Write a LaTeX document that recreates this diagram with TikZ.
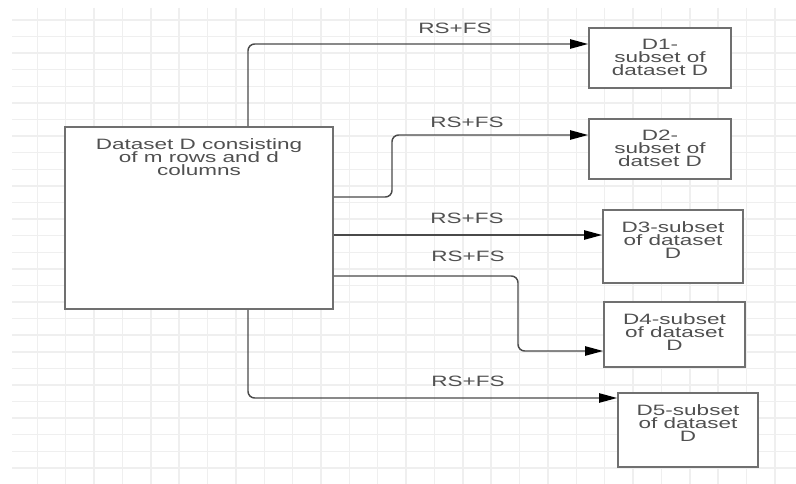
\documentclass[tikz,border=0pt]{standalone}
\usepackage{fontspec}
\usepackage{tikz}
\usetikzlibrary{arrows.meta,positioning}
\newfontfamily\widesans[FakeStretch=1.5]{Liberation Sans}
\newcommand{\boxfont}{\widesans\fontsize{11.25pt}{9.75pt}\selectfont\lineskiplimit=-20pt\relax}
\definecolor{gridcol}{HTML}{EFEFEF}
\definecolor{edgecol}{HTML}{707070}
\definecolor{txtcol}{HTML}{505050}
\definecolor{linecol}{HTML}{4A4A4A}
\tikzset{
  gline/.style={draw=gridcol, line width=1.1pt},
  dbox/.style={draw=edgecol, fill=white, line width=1.4pt, inner sep=0pt},
  btxt/.style={align=center, inner sep=0pt, text=txtcol, font=\boxfont},
  flbl/.style={anchor=base, inner sep=0pt, text=txtcol, font=\boxfont},
  farr/.style={-{Triangle[length=13.5pt,width=7pt,color=black]}, draw=linecol, line width=1.1pt, rounded corners=5pt}
}

\begin{document}
\begin{tikzpicture}[x=0.75pt,y=-0.75pt]
\fill[white] (0,0) rectangle (796,484);
\useasboundingbox (0,0) rectangle (796,484);
% background grid
\foreach \gx in {0,...,26}
  \draw[gline] ({37.3+28.37*\gx},8) -- ({37.3+28.37*\gx},484);
\foreach \gy in {0,...,27}
  \draw[gline] (12,{20+16.59*\gy}) -- (796,{20+16.59*\gy});

\node[dbox, minimum width=201pt, minimum height=136.5pt] (dset) at (199,218) {};
\node[btxt, below=9pt of dset.north] (dsett) {Dataset D consisting\\of m rows and d\\columns};

\node[dbox, minimum width=106.5pt, minimum height=45pt] (d1) at (660,58) {};
\node[btxt, below=9pt of d1.north] (d1t) {D1-\\subset of\\dataset D};
\node[dbox, minimum width=106.5pt, minimum height=45pt] (d2) at (660,149) {};
\node[btxt, below=9pt of d2.north] (d2t) {D2-\\subset of\\datset D};
\node[dbox, minimum width=105pt, minimum height=54.75pt] (d3) at (673,246.5) {};
\node[btxt, below=9pt of d3.north] (d3t) {D3-subset\\of dataset\\D};
\node[dbox, minimum width=105.75pt, minimum height=48.75pt] (d4) at (674.5,334.5) {};
\node[btxt, below=9pt of d4.north] (d4t) {D4-subset\\of dataset\\D};
\node[dbox, minimum width=105pt, minimum height=55.5pt] (d5) at (688,430) {};
\node[btxt, below=9pt of d5.north] (d5t) {D5-subset\\of dataset\\D};

\draw[farr] ([xshift=36.75pt]dset.north) |- ([yshift=10.5pt]d1.west);
\draw[farr] ([yshift=15.75pt]dset.east) -| (392,135) -- ([yshift=10.5pt]d2.west);
\draw[farr] ([yshift=-12.75pt]dset.east) -- ([yshift=8.625pt]d3.west);
\draw[farr] ([yshift=-43.5pt]dset.east) -| (518,351) -- ([yshift=-12.375pt]d4.west);
\draw[farr] ([xshift=36.75pt]dset.south) |- ([yshift=24pt]d5.west);

\node[flbl] (rs1) at (455,33.3) {RS+FS};
\node[flbl] (rs2) at (467,128) {RS+FS};
\node[flbl] (rs3) at (467,224) {RS+FS};
\node[flbl] (rs4) at (468,262) {RS+FS};
\node[flbl] (rs5) at (468,387) {RS+FS};
\end{tikzpicture}
\end{document}
